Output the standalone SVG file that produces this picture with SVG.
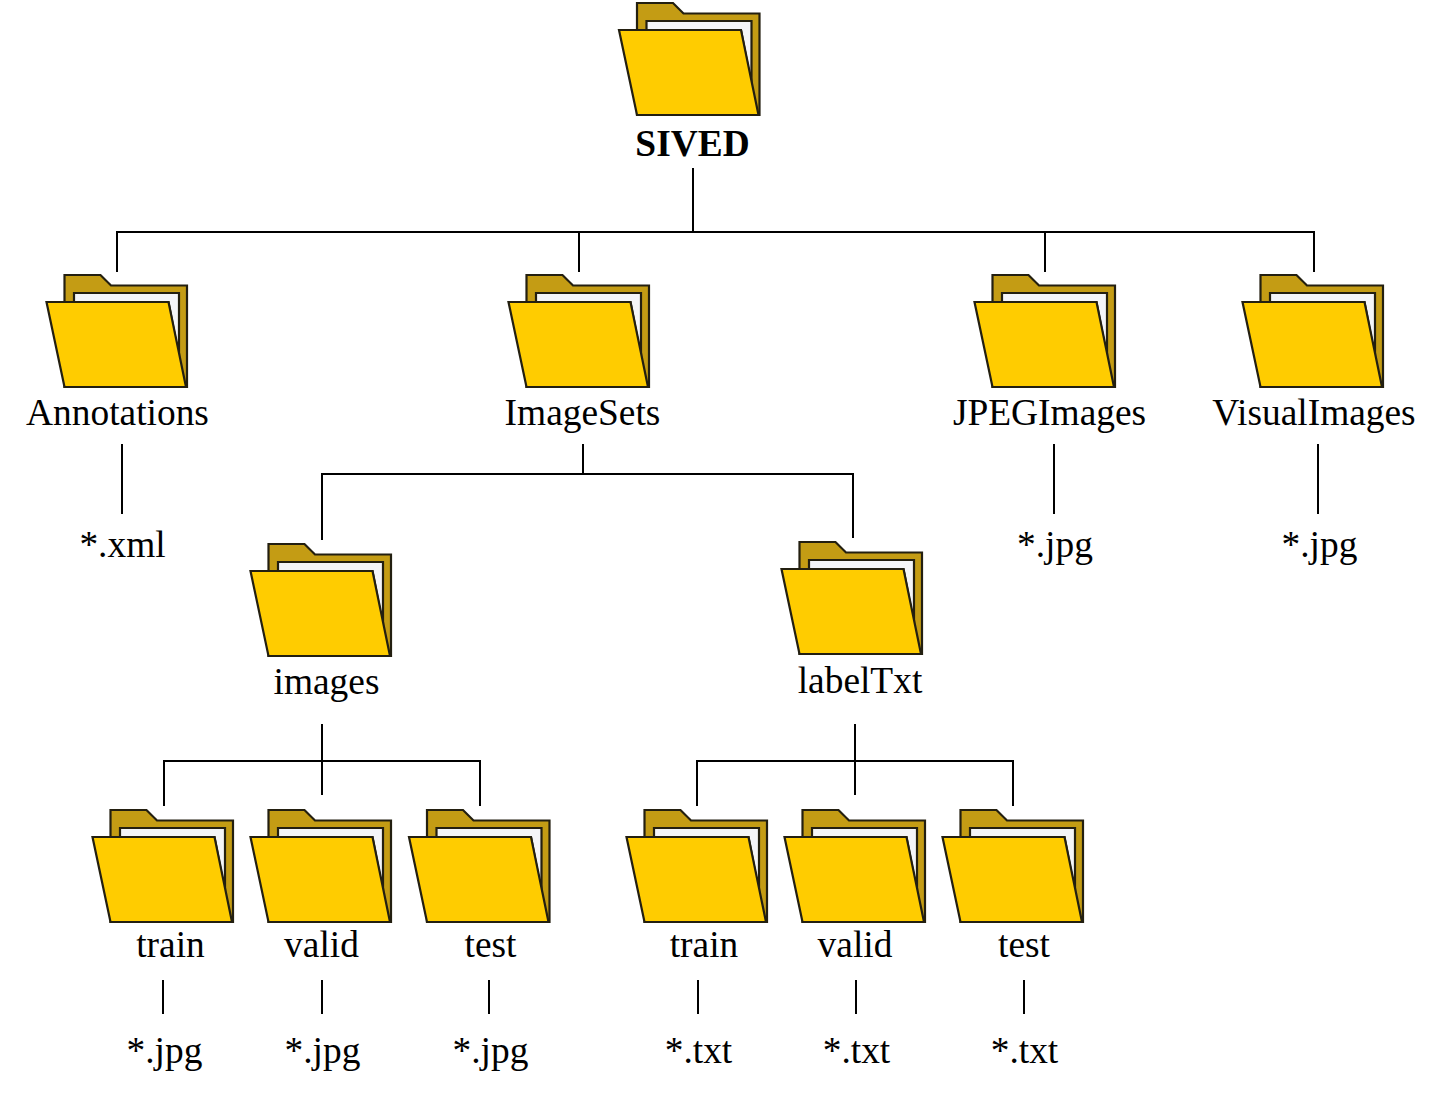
<svg xmlns="http://www.w3.org/2000/svg" width="1439" height="1096" viewBox="0 0 1439 1096">
<style>
.t{font-family:"Liberation Serif","Times New Roman",serif;font-size:37.4px;fill:#000;text-anchor:middle}
.b{font-weight:bold}
.c{fill:none;stroke:#000;stroke-width:2}
.back{fill:#c49c14;stroke:#231f10;stroke-width:2.2;stroke-linejoin:miter}
.paper{fill:#f4f5f8;stroke:#231f10;stroke-width:2.2}
.front{fill:#ffcc00;stroke:#231f10;stroke-width:2.2;stroke-linejoin:miter}
</style>
<defs>
<g id="folder">
<path class="back" d="M18.500 -112H54.500L65 -101.500H141V0H18.500Z"/>
<path class="paper" d="M28 -94H133V-30L122.500 -85H28Z"/>
<path class="front" d="M0.500 -85H122.500L140 0H18.500Z"/>
</g>
</defs>
<rect width="1439" height="1096" fill="#fff"/>
<g id="connectors">
<path class="c" d="M693 168V232M117 272V232H1314V272M579 232V272M1045 232V272"/>
<path class="c" d="M122 444V514M1054 444V514M1318 444V514"/>
<path class="c" d="M583 444V474M322 540V474H853V538"/>
<path class="c" d="M322 724V795M164 806V761H480V806"/>
<path class="c" d="M855 724V795M697 806V761H1013V806"/>
<path class="c" d="M163 980V1014M322 980V1014M489 980V1014M698 980V1014M856 980V1014M1024 980V1014"/>
</g>
<g id="sived"><use href="#folder" x="618.500" y="115"/><text class="t b" x="692.500" y="156">SIVED</text></g>
<g id="annotations"><use href="#folder" x="46" y="387"/><text class="t" x="117.500" y="425">Annotations</text></g>
<g id="imagesets"><use href="#folder" x="508" y="387"/><text class="t" x="582.500" y="425">ImageSets</text></g>
<g id="jpegimages"><use href="#folder" x="974" y="387"/><text class="t" x="1049.500" y="425">JPEGImages</text></g>
<g id="visualimages"><use href="#folder" x="1242" y="387"/><text class="t" x="1314" y="425">VisualImages</text></g>
<g id="xml"><text class="t" x="122.500" y="557">*.xml</text></g>
<g id="jpg-jpeg"><text class="t" x="1055" y="557">*.jpg</text></g>
<g id="jpg-visual"><text class="t" x="1319.500" y="557">*.jpg</text></g>
<g id="images"><use href="#folder" x="250" y="656"/><text class="t" x="326.500" y="693.500">images</text></g>
<g id="labeltxt"><use href="#folder" x="781" y="654"/><text class="t" x="860" y="693">labelTxt</text></g>
<g id="train-1"><use href="#folder" x="92" y="922"/><text class="t" x="170.500" y="957">train</text></g>
<g id="valid-1"><use href="#folder" x="250" y="922"/><text class="t" x="321.500" y="957">valid</text></g>
<g id="test-1"><use href="#folder" x="408.500" y="922"/><text class="t" x="490.500" y="957">test</text></g>
<g id="train-2"><use href="#folder" x="626" y="922"/><text class="t" x="704" y="957">train</text></g>
<g id="valid-2"><use href="#folder" x="784" y="922"/><text class="t" x="855" y="957">valid</text></g>
<g id="test-2"><use href="#folder" x="942" y="922"/><text class="t" x="1024" y="957">test</text></g>
<g id="jpg-1"><text class="t" x="164.500" y="1063">*.jpg</text></g>
<g id="jpg-2"><text class="t" x="322.500" y="1063">*.jpg</text></g>
<g id="jpg-3"><text class="t" x="490.500" y="1063">*.jpg</text></g>
<g id="txt-1"><text class="t" x="698.500" y="1063">*.txt</text></g>
<g id="txt-2"><text class="t" x="856.500" y="1063">*.txt</text></g>
<g id="txt-3"><text class="t" x="1024.500" y="1063">*.txt</text></g>
</svg>
